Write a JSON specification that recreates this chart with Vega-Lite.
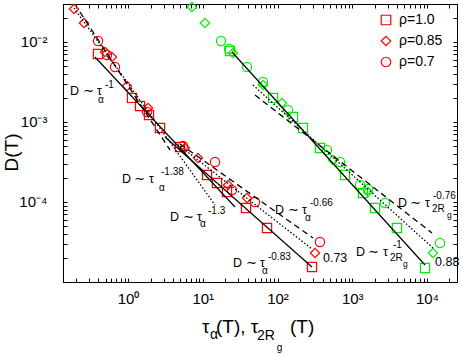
{
  "$schema": "https://vega.github.io/schema/vega-lite/v6.json",
  "autosize": {"type": "none"},
  "width": 394,
  "height": 278,
  "padding": {"left": 63, "top": 4, "right": 6, "bottom": 72},
  "background": "white",
  "config": {
    "font": "Liberation Sans",
    "view": {"stroke": "black", "strokeWidth": 1},
    "axis": {"domainColor": "black", "tickColor": "black", "labelColor": "black", "titleColor": "black", "grid": false, "labelFont": "Liberation Sans", "titleFont": "Liberation Sans", "titleFontWeight": "normal", "labelOverlap": false, "labelFlush": false, "labelBound": false, "labelFontSize": 15, "titleFontSize": 19, "tickSize": -4},
    "legend": {"labelFontSize": 14, "labelFont": "Liberation Sans", "labelColor": "black"},
    "text": {"font": "Liberation Sans", "color": "black", "align": "left", "baseline": "middle"}
  },
  "datasets": {
    "pts": [
      {"tau": 0.397, "D": 0.00708, "rho": "ρ=1.0", "ts": "alpha"},
      {"tau": 1.131, "D": 0.0020, "rho": "ρ=1.0", "ts": "alpha"},
      {"tau": 1.447, "D": 0.001585, "rho": "ρ=1.0", "ts": "alpha"},
      {"tau": 1.909, "D": 0.001223, "rho": "ρ=1.0", "ts": "alpha"},
      {"tau": 2.679, "D": 0.000841, "rho": "ρ=1.0", "ts": "alpha"},
      {"tau": 4.96, "D": 0.000487, "rho": "ρ=1.0", "ts": "alpha"},
      {"tau": 11.4, "D": 0.0002176, "rho": "ρ=1.0", "ts": "alpha"},
      {"tau": 15.52, "D": 0.0001728, "rho": "ρ=1.0", "ts": "alpha"},
      {"tau": 21.1, "D": 0.0001334, "rho": "ρ=1.0", "ts": "alpha"},
      {"tau": 37.9, "D": 0.0000841, "rho": "ρ=1.0", "ts": "alpha"},
      {"tau": 72.4, "D": 0.0000473, "rho": "ρ=1.0", "ts": "alpha"},
      {"tau": 289, "D": 0.0000154, "rho": "ρ=1.0", "ts": "alpha"},
      {"tau": 0.1895, "D": 0.02585, "rho": "ρ=0.85", "ts": "alpha"},
      {"tau": 0.2578, "D": 0.01728, "rho": "ρ=0.85", "ts": "alpha"},
      {"tau": 0.4923, "D": 0.0075, "rho": "ρ=0.85", "ts": "alpha"},
      {"tau": 0.6106, "D": 0.00649, "rho": "ρ=0.85", "ts": "alpha"},
      {"tau": 0.9697, "D": 0.002818, "rho": "ρ=0.85", "ts": "alpha"},
      {"tau": 1.852, "D": 0.001496, "rho": "ρ=0.85", "ts": "alpha"},
      {"tau": 5.788, "D": 0.000473, "rho": "ρ=0.85", "ts": "alpha"},
      {"tau": 8.64, "D": 0.000355, "rho": "ρ=0.85", "ts": "alpha"},
      {"tau": 21.8, "D": 0.0001631, "rho": "ρ=0.85", "ts": "alpha"},
      {"tau": 39.1, "D": 0.0001122, "rho": "ρ=0.85", "ts": "alpha"},
      {"tau": 317.6, "D": 0.00002305, "rho": "ρ=0.85", "ts": "alpha"},
      {"tau": 0.397, "D": 0.01029, "rho": "ρ=0.7", "ts": "alpha"},
      {"tau": 0.524, "D": 0.00688, "rho": "ρ=0.7", "ts": "alpha"},
      {"tau": 0.67, "D": 0.00487, "rho": "ρ=0.7", "ts": "alpha"},
      {"tau": 1.796, "D": 0.001334, "rho": "ρ=0.7", "ts": "alpha"},
      {"tau": 5.44, "D": 0.000501, "rho": "ρ=0.7", "ts": "alpha"},
      {"tau": 14.58, "D": 0.000316, "rho": "ρ=0.7", "ts": "alpha"},
      {"tau": 24.6, "D": 0.0001413, "rho": "ρ=0.7", "ts": "alpha"},
      {"tau": 50.0, "D": 0.0001, "rho": "ρ=0.7", "ts": "alpha"},
      {"tau": 370, "D": 0.0000316, "rho": "ρ=0.7", "ts": "alpha"},
      {"tau": 23.1, "D": 0.00772, "rho": "ρ=1.0", "ts": "2Rg"},
      {"tau": 87.1, "D": 0.0020, "rho": "ρ=1.0", "ts": "2Rg"},
      {"tau": 161, "D": 0.001155, "rho": "ρ=1.0", "ts": "2Rg"},
      {"tau": 219, "D": 0.000841, "rho": "ρ=1.0", "ts": "2Rg"},
      {"tau": 370, "D": 0.000473, "rho": "ρ=1.0", "ts": "2Rg"},
      {"tau": 800, "D": 0.0002176, "rho": "ρ=1.0", "ts": "2Rg"},
      {"tau": 1393, "D": 0.0001296, "rho": "ρ=1.0", "ts": "2Rg"},
      {"tau": 2015, "D": 0.0000841, "rho": "ρ=1.0", "ts": "2Rg"},
      {"tau": 3969, "D": 0.0000473, "rho": "ρ=1.0", "ts": "2Rg"},
      {"tau": 9400, "D": 0.00001496, "rho": "ρ=1.0", "ts": "2Rg"},
      {"tau": 7.18, "D": 0.0274, "rho": "ρ=0.85", "ts": "2Rg"},
      {"tau": 10.72, "D": 0.01728, "rho": "ρ=0.85", "ts": "2Rg"},
      {"tau": 25.4, "D": 0.00729, "rho": "ρ=0.85", "ts": "2Rg"},
      {"tau": 64.0, "D": 0.0029, "rho": "ρ=0.85", "ts": "2Rg"},
      {"tau": 114.8, "D": 0.001728, "rho": "ρ=0.85", "ts": "2Rg"},
      {"tau": 552, "D": 0.000335, "rho": "ρ=0.85", "ts": "2Rg"},
      {"tau": 1625, "D": 0.0001334, "rho": "ρ=0.85", "ts": "2Rg"},
      {"tau": 12030, "D": 0.00002305, "rho": "ρ=0.85", "ts": "2Rg"},
      {"tau": 17.54, "D": 0.01029, "rho": "ρ=0.7", "ts": "2Rg"},
      {"tau": 22.45, "D": 0.00818, "rho": "ρ=0.7", "ts": "2Rg"},
      {"tau": 39.1, "D": 0.00487, "rho": "ρ=0.7", "ts": "2Rg"},
      {"tau": 64, "D": 0.00316, "rho": "ρ=0.7", "ts": "2Rg"},
      {"tau": 138, "D": 0.001413, "rho": "ρ=0.7", "ts": "2Rg"},
      {"tau": 459, "D": 0.000447, "rho": "ρ=0.7", "ts": "2Rg"},
      {"tau": 686, "D": 0.000316, "rho": "ρ=0.7", "ts": "2Rg"},
      {"tau": 1270, "D": 0.0001631, "rho": "ρ=0.7", "ts": "2Rg"},
      {"tau": 1625, "D": 0.0001454, "rho": "ρ=0.7", "ts": "2Rg"},
      {"tau": 2742, "D": 0.0000972, "rho": "ρ=0.7", "ts": "2Rg"},
      {"tau": 14930, "D": 0.0000307, "rho": "ρ=0.7", "ts": "2Rg"}
    ],
    "fits": [
      {"fit": "A", "rho": "ρ=1.0", "tau": 0.3618, "D": 0.00649},
      {"fit": "A", "rho": "ρ=1.0", "tau": 27.0, "D": 0.0000866},
      {"fit": "B", "rho": "ρ=1.0", "tau": 3.126, "D": 0.000649},
      {"fit": "B", "rho": "ρ=1.0", "tau": 289, "D": 0.0000154},
      {"fit": "C", "rho": "ρ=0.85", "tau": 0.1895, "D": 0.0266},
      {"fit": "C", "rho": "ρ=0.85", "tau": 14.58, "D": 0.0000917},
      {"fit": "D", "rho": "ρ=0.85", "tau": 4.96, "D": 0.000501},
      {"fit": "D", "rho": "ρ=0.85", "tau": 289, "D": 0.00002587},
      {"fit": "E", "rho": "ρ=0.7", "tau": 0.228, "D": 0.0237},
      {"fit": "E", "rho": "ρ=0.7", "tau": 3.647, "D": 0.000447},
      {"fit": "F", "rho": "ρ=0.7", "tau": 4.96, "D": 0.000531},
      {"fit": "F", "rho": "ρ=0.7", "tau": 298.5, "D": 0.0000355},
      {"fit": "G", "rho": "ρ=1.0", "tau": 24.6, "D": 0.0075},
      {"fit": "G", "rho": "ρ=1.0", "tau": 9400, "D": 0.0000163},
      {"fit": "H", "rho": "ρ=0.7", "tau": 50, "D": 0.002175},
      {"fit": "H", "rho": "ρ=0.7", "tau": 11670, "D": 0.000041},
      {"fit": "I", "rho": "ρ=0.85", "tau": 47, "D": 0.0029},
      {"fit": "I", "rho": "ρ=0.85", "tau": 12030, "D": 0.0000266}
    ],
    "labs": [
      {"tau": 0.1675, "D": 0.00244, "t": "D ∼ τ", "k": "main"},
      {"tau": 0.4923, "D": 0.0029, "t": "-1", "k": "sup"},
      {"tau": 0.397, "D": 0.001884, "t": "α", "k": "sub"},
      {"tau": 0.831, "D": 0.000194, "t": "D ∼ τ", "k": "main"},
      {"tau": 2.764, "D": 0.000237, "t": "-1.38", "k": "sup"},
      {"tau": 2.598, "D": 0.0001496, "t": "α", "k": "sub"},
      {"tau": 3.647, "D": 0.0000649, "t": "D ∼ τ", "k": "main"},
      {"tau": 11.76, "D": 0.0000772, "t": "-1.3", "k": "sup"},
      {"tau": 9.19, "D": 0.0000531, "t": "α", "k": "sub"},
      {"tau": 92.6, "D": 0.0000794, "t": "D ∼ τ", "k": "main"},
      {"tau": 272.2, "D": 0.0000972, "t": "-0.66", "k": "sup"},
      {"tau": 233.3, "D": 0.0000631, "t": "α", "k": "sub"},
      {"tau": 25.4, "D": 0.00001728, "t": "D ∼ τ", "k": "main"},
      {"tau": 74.6, "D": 0.0000205, "t": "-0.83", "k": "sup"},
      {"tau": 62.0, "D": 0.00001372, "t": "α", "k": "sub"},
      {"tau": 406, "D": 0.00002, "t": "0.73", "k": "num"},
      {"tau": 4093, "D": 0.0000972, "t": "D ∼ τ", "k": "main"},
      {"tau": 12030, "D": 0.000119, "t": "-0.76", "k": "sup"},
      {"tau": 11670, "D": 0.0000818, "t": "2R", "k": "sub"},
      {"tau": 18530, "D": 0.0000688, "t": "g", "k": "subsub"},
      {"tau": 1122, "D": 0.0000234, "t": "D ∼ τ", "k": "main"},
      {"tau": 3508, "D": 0.000029, "t": "-1", "k": "sup"},
      {"tau": 3199, "D": 0.00002, "t": "2R", "k": "sub"},
      {"tau": 4775, "D": 0.0000168, "t": "g", "k": "subsub"},
      {"tau": 12800, "D": 0.00001778, "t": "0.88", "k": "num"},
      {"tau": 9.77, "D": 0.000002738, "t": "τ", "k": "title"},
      {"tau": 12.5, "D": 0.000002175, "t": "α", "k": "tsub"},
      {"tau": 15.04, "D": 0.000002738, "t": "(T), τ", "k": "title"},
      {"tau": 53.2, "D": 0.00000211, "t": "2R", "k": "tsub"},
      {"tau": 98.0, "D": 0.000001496, "t": "g", "k": "tsubsub"},
      {"tau": 147.0, "D": 0.000002738, "t": "(T)", "k": "title"}
    ]
  },
  "resolve": {"axis": {"x": "independent", "y": "independent"}},
  "encoding": {
    "x": {"field": "tau", "type": "quantitative", "scale": {"type": "log", "domain": [0.135, 25200]}, "axis": null},
    "y": {"field": "D", "type": "quantitative", "scale": {"type": "log", "domain": [0.00001, 0.02985]}, "axis": null}
  },
  "layer": [
    {
      "data": {"name": "pts"},
      "mark": {"type": "point", "filled": false, "strokeWidth": 1.2, "opacity": 1, "size": 85},
      "encoding": {
        "x": {"field": "tau", "type": "quantitative", "scale": {"type": "log", "domain": [0.135, 25200]},
          "axis": {"orient": "bottom", "title": null, "values": [0.2,0.3,0.4,0.5,0.6,0.7,0.8,0.9,1,2,3,4,5,6,7,8,9,10,20,30,40,50,60,70,80,90,100,200,300,400,500,600,700,800,900,1000,2000,3000,4000,5000,6000,7000,8000,9000,10000,20000],
            "labelExpr": "datum.value == 1 ? '10⁰' : datum.value == 10 ? '10¹' : datum.value == 100 ? '10²' : datum.value == 1000 ? '10³' : datum.value == 10000 ? '10⁴' : ''",
            "tickSize": -4, "labelPadding": 13, "labelFontSize": 15, "labelBaseline": "top"}},
        "y": {"field": "D", "type": "quantitative", "scale": {"type": "log", "domain": [0.00001, 0.02985]},
          "axis": {"orient": "left", "title": "D(T)", "titleFontSize": 19, "titleX": -52, "titleY": 148, "titleBaseline": "middle", "titleAlign": "center", "titleAngle": -90, "values": [0.00002,0.00003,0.00004,0.00005,0.00006,0.00007,0.00008,0.00009,0.0001,0.0002,0.0003,0.0004,0.0005,0.0006,0.0007,0.0008,0.0009,0.001,0.002,0.003,0.004,0.005,0.006,0.007,0.008,0.009,0.01,0.02],
            "labelExpr": "datum.value == 0.01 ? '10⁻²' : datum.value == 0.001 ? '10⁻³' : datum.value == 0.0001 ? '10⁻⁴' : ''",
            "tickSize": -4, "labelPadding": 20, "labelFontSize": 15}},
        "shape": {"field": "rho", "type": "nominal", "scale": {"domain": ["ρ=1.0", "ρ=0.85", "ρ=0.7"], "range": ["square", "diamond", "circle"]},
          "legend": {"orient": "none", "legendX": 316, "legendY": 9, "title": null, "padding": 0, "labelFontSize": 14, "labelColor": "black", "symbolStrokeColor": "#ff0000", "symbolFillColor": "transparent", "symbolStrokeWidth": 1.2, "symbolSize": 90, "labelOffset": 6, "rowPadding": 5}},
        "color": {"field": "ts", "type": "nominal", "scale": {"domain": ["alpha", "2Rg"], "range": ["#ff0000", "#00ee00"]}, "legend": null}
      }
    },
    {
      "data": {"name": "fits"},
      "transform": [{"filter": "datum.rho == 'ρ=1.0'"}],
      "mark": {"type": "line", "color": "black", "strokeWidth": 1.2},
      "encoding": {
        "x": {"field": "tau", "type": "quantitative", "scale": {"type": "log", "domain": [0.135, 25200]},
          "axis": {"orient": "top", "title": null, "labels": false, "values": [0.2,0.3,0.4,0.5,0.6,0.7,0.8,0.9,1,2,3,4,5,6,7,8,9,10,20,30,40,50,60,70,80,90,100,200,300,400,500,600,700,800,900,1000,2000,3000,4000,5000,6000,7000,8000,9000,10000,20000], "tickSize": -4}},
        "y": {"field": "D", "type": "quantitative", "scale": {"type": "log", "domain": [0.00001, 0.02985]},
          "axis": {"orient": "right", "title": null, "labels": false, "values": [0.00002,0.00003,0.00004,0.00005,0.00006,0.00007,0.00008,0.00009,0.0001,0.0002,0.0003,0.0004,0.0005,0.0006,0.0007,0.0008,0.0009,0.001,0.002,0.003,0.004,0.005,0.006,0.007,0.008,0.009,0.01,0.02], "tickSize": -4}},
        "detail": {"field": "fit", "type": "nominal"}
      }
    },
    {
      "data": {"name": "fits"},
      "transform": [{"filter": "datum.rho == 'ρ=0.85'"}],
      "mark": {"type": "line", "color": "black", "strokeWidth": 1.3, "strokeDash": [1.5, 2]},
      "encoding": {"detail": {"field": "fit", "type": "nominal"}}
    },
    {
      "data": {"name": "fits"},
      "transform": [{"filter": "datum.rho == 'ρ=0.7'"}],
      "mark": {"type": "line", "color": "black", "strokeWidth": 1.3, "strokeDash": [6, 4]},
      "encoding": {"detail": {"field": "fit", "type": "nominal"}}
    },
    {
      "data": {"name": "labs"},
      "transform": [{"filter": "datum.k == 'main' || datum.k == 'num'"}],
      "mark": {"type": "text", "fontSize": 12.5},
      "encoding": {"text": {"field": "t"}}
    },
    {
      "data": {"name": "labs"},
      "transform": [{"filter": "datum.k == 'sup' || datum.k == 'sub'"}],
      "mark": {"type": "text", "fontSize": 10},
      "encoding": {"text": {"field": "t"}}
    },
    {
      "data": {"name": "labs"},
      "transform": [{"filter": "datum.k == 'subsub'"}],
      "mark": {"type": "text", "fontSize": 8.5},
      "encoding": {"text": {"field": "t"}}
    },
    {
      "data": {"name": "labs"},
      "transform": [{"filter": "datum.k == 'title'"}],
      "mark": {"type": "text", "fontSize": 19},
      "encoding": {"text": {"field": "t"}}
    },
    {
      "data": {"name": "labs"},
      "transform": [{"filter": "datum.k == 'tsub'"}],
      "mark": {"type": "text", "fontSize": 14},
      "encoding": {"text": {"field": "t"}}
    },
    {
      "data": {"name": "labs"},
      "transform": [{"filter": "datum.k == 'tsubsub'"}],
      "mark": {"type": "text", "fontSize": 10},
      "encoding": {"text": {"field": "t"}}
    }
  ]
}
